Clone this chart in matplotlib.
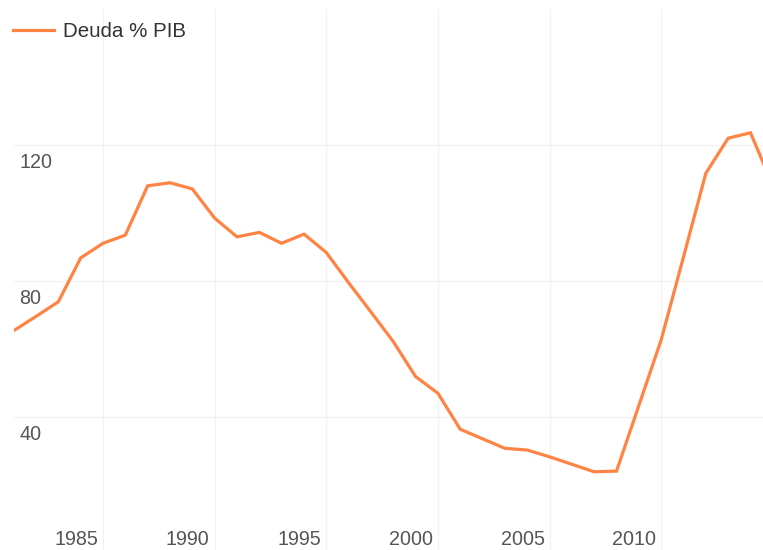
import matplotlib
matplotlib.use('Agg')
import matplotlib.pyplot as plt

# Datos de la grafica (deuda como % del PIB)
anios = list(range(1981, 2016))
deuda_pib = [65.3, 69.5, 73.8, 86.7, 91.0, 93.4, 107.9, 108.8, 107.0, 98.4,
             92.9, 94.2, 91.0, 93.7, 88.3, 79.4, 70.8, 62.1, 51.8, 46.9,
             36.3, 33.5, 30.7, 30.2, 28.2, 26.0, 23.8, 24.0, 43.3, 62.6,
             87.0, 111.6, 121.9, 123.5, 108.0]
ticks_x = [1985, 1990, 1995, 2000, 2005, 2010]
ticks_y = [40, 80, 120]
etiqueta = 'Deuda % PIB'

plt.rcParams['font.family'] = ['Liberation Sans', 'DejaVu Sans']

ancho, alto = 763, 550
fig = plt.figure(figsize=(ancho / 100, alto / 100), dpi=100)
ax = fig.add_axes([13.7 / ancho, 0, 1 - 13.7 / ancho, 1 - 9 / alto])

ax.plot(anios, deuda_pib, color='#ff8444', linewidth=2.3, label=etiqueta,
        solid_joinstyle='miter', zorder=3)

ax.set_xlim(1981, 2014.56)
ax.set_ylim(0.8, 159.9)
ax.set_xticks(ticks_x)
ax.set_yticks(ticks_y)
ax.grid(True, color='#f2f2f2', linewidth=0.9)
ax.tick_params(length=0, labelbottom=False, labelleft=False)
for lado in ax.spines.values():
    lado.set_visible(False)

# Etiquetas de los ejes dentro del area de la grafica
for v in ticks_y:
    ax.annotate(str(v), xy=(0, v), xycoords=('axes fraction', 'data'),
                xytext=(5.5, -23), textcoords='offset pixels',
                ha='left', va='baseline', fontsize=14.2, color='#555555')
for a in ticks_x:
    ax.annotate(str(a), xy=(a, 0), xycoords=('data', 'axes fraction'),
                xytext=(-5, 5), textcoords='offset pixels',
                ha='right', va='baseline', fontsize=14.2, color='#555555')

fig.legend(loc='upper left', bbox_to_anchor=(13 / ancho, 1 - 22 / alto),
           frameon=False, fontsize=14.8, borderpad=0, borderaxespad=0,
           handlelength=2.0, handletextpad=0.45, labelcolor='#333333')

fig.savefig('out.png', dpi=100)
plt.close()
